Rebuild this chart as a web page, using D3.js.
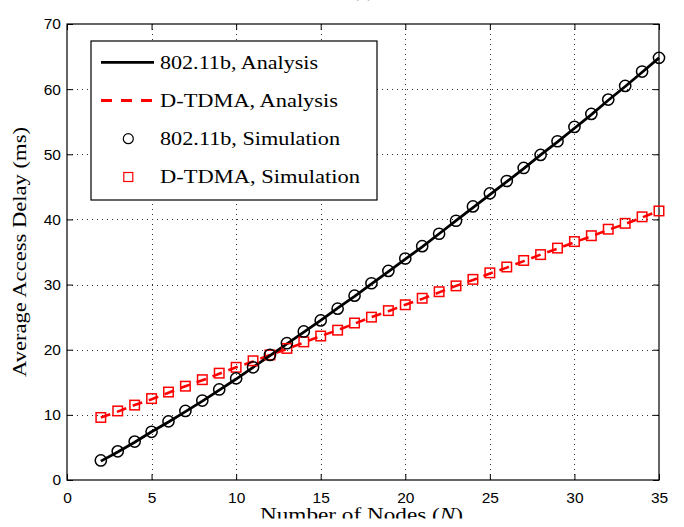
<!DOCTYPE html>
<html>
<head>
<meta charset="utf-8">
<script src="https://cdn.jsdelivr.net/npm/d3@7"></script>
<style>
  html, body { margin: 0; padding: 0; background: #fff; }
  svg { display: block; }
</style>
</head>
<body>
<svg id="chart" width="684" height="527"></svg>
<script>
// Number of nodes N
const nodes = d3.range(2, 36);

// Average access delay (ms), analytical model
const analysis80211b = [2.9, 4.3, 5.8, 7.4, 8.9, 10.5, 12.1, 13.8, 15.5, 17.3, 19.1, 20.9, 22.7, 24.5, 26.4, 28.2, 30.1, 32.0, 33.9, 35.8, 37.8, 39.8, 41.8, 43.8, 45.8, 47.8, 49.9, 51.9, 54.0, 56.1, 58.3, 60.4, 62.6, 64.8];
const analysisDTDMA = [9.6, 10.5, 11.5, 12.4, 13.4, 14.4, 15.3, 16.3, 17.3, 18.2, 19.2, 20.1, 21.1, 22.1, 23.0, 24.0, 25.0, 25.9, 26.9, 27.8, 28.8, 29.8, 30.7, 31.7, 32.6, 33.6, 34.6, 35.5, 36.5, 37.4, 38.4, 39.3, 40.3, 41.3];

// Average access delay (ms), simulation
const simulation80211b = [3.0, 4.4, 5.9, 7.4, 9.0, 10.6, 12.2, 13.9, 15.6, 17.3, 19.2, 21.0, 22.8, 24.5, 26.3, 28.3, 30.2, 32.1, 34.0, 35.9, 37.8, 39.8, 42.0, 44.0, 45.9, 47.9, 49.9, 52.0, 54.2, 56.2, 58.4, 60.5, 62.7, 64.8];
const simulationDTDMA = [9.6, 10.6, 11.5, 12.5, 13.5, 14.4, 15.4, 16.4, 17.3, 18.3, 19.2, 20.2, 21.2, 22.1, 23.0, 24.1, 25.0, 26.0, 26.9, 27.9, 28.9, 29.8, 30.8, 31.8, 32.7, 33.7, 34.6, 35.6, 36.6, 37.5, 38.5, 39.4, 40.4, 41.3];

// Axis ticks
const xTicks = [0, 5, 10, 15, 20, 25, 30, 35];
const yTicks = [0, 10, 20, 30, 40, 50, 60, 70];

// Legend entries
const legendLabels = ["802.11b, Analysis", "D-TDMA, Analysis", "802.11b, Simulation", "D-TDMA, Simulation"];

const svg = d3.select("#chart");
const W = 684, H = 527;
const margin = { left: 67, top: 24, right: 25, bottom: 47 };
const iw = W - margin.left - margin.right;
const ih = H - margin.top - margin.bottom;

const x = d3.scaleLinear().domain([0, 35]).range([margin.left, margin.left + iw]);
const y = d3.scaleLinear().domain([0, 70]).range([margin.top + ih, margin.top]);

const serif = "'Liberation Serif', 'Times New Roman', serif";
const sans = "'Liberation Sans', Arial, Helvetica, sans-serif";

// Panel caption, sitting mostly above the top edge
svg.append("text")
  .attr("x", 363).attr("y", -3)
  .attr("text-anchor", "middle")
  .attr("font-family", serif).attr("font-size", 19)
  .attr("fill", "#888")
  .text("(a)");

// Dotted grid
const grid = svg.append("g").attr("stroke", "#333").attr("stroke-width", 1)
  .attr("stroke-dasharray", "1,4").attr("shape-rendering", "crispEdges");
grid.selectAll("line.vx").data(xTicks.slice(1, -1)).join("line")
  .attr("x1", d => Math.round(x(d)) + 0.5).attr("x2", d => Math.round(x(d)) + 0.5)
  .attr("y1", y(70)).attr("y2", y(0));
grid.selectAll("line.hy").data(yTicks.slice(1, -1)).join("line")
  .attr("y1", d => Math.round(y(d)) + 0.5).attr("y2", d => Math.round(y(d)) + 0.5)
  .attr("x1", x(0)).attr("x2", x(35));

// Axes with inward ticks on all four sides
const axisStyle = g => {
  g.select(".domain").remove();
  g.selectAll("text").attr("font-family", sans).attr("font-size", 15.5).attr("fill", "#000");
  g.selectAll("line").attr("stroke", "#000");
};
svg.append("g").attr("transform", `translate(0,${y(0)})`)
  .call(d3.axisBottom(x).tickValues(xTicks).tickSize(-6).tickPadding(12).tickFormat(d3.format("d")))
  .call(axisStyle);
svg.append("g").attr("transform", `translate(${x(0)},0)`)
  .call(d3.axisLeft(y).tickValues(yTicks).tickSize(-6).tickPadding(6).tickFormat(d3.format("d")))
  .call(axisStyle);
svg.append("g").attr("transform", `translate(0,${y(70)})`)
  .call(d3.axisTop(x).tickValues(xTicks).tickSize(-6).tickFormat(""))
  .call(axisStyle);
svg.append("g").attr("transform", `translate(${x(35)},0)`)
  .call(d3.axisRight(y).tickValues(yTicks).tickSize(-6).tickFormat(""))
  .call(axisStyle);

// Plot frame
svg.append("rect")
  .attr("x", x(0)).attr("y", y(70))
  .attr("width", x(35) - x(0)).attr("height", y(0) - y(70))
  .attr("fill", "none").attr("stroke", "#000").attr("stroke-width", 1.2);

// Analysis curves
const line = d3.line().x((d, i) => x(nodes[i])).y(d => y(d));
svg.append("path").datum(analysisDTDMA)
  .attr("d", line).attr("fill", "none")
  .attr("stroke", "#ff0000").attr("stroke-width", 2.6).attr("stroke-dasharray", "10,7");
svg.append("path").datum(analysis80211b)
  .attr("d", line).attr("fill", "none")
  .attr("stroke", "#000").attr("stroke-width", 2.8);

// Simulation markers
const sq = 9.5;
svg.append("g").selectAll("rect").data(simulationDTDMA).join("rect")
  .attr("x", (d, i) => x(nodes[i]) - sq / 2).attr("y", d => y(d) - sq / 2)
  .attr("width", sq).attr("height", sq)
  .attr("fill", "none").attr("stroke", "#ff0000").attr("stroke-width", 1.5);
svg.append("g").selectAll("circle").data(simulation80211b).join("circle")
  .attr("cx", (d, i) => x(nodes[i])).attr("cy", d => y(d)).attr("r", 5.6)
  .attr("fill", "none").attr("stroke", "#000").attr("stroke-width", 1.5);

// Legend
const lg = svg.append("g");
lg.append("rect").attr("x", 91).attr("y", 41).attr("width", 286).attr("height", 159)
  .attr("fill", "#fff").attr("stroke", "#000").attr("stroke-width", 1.2);
const rowY = [62.3, 100.5, 138.7, 177];
const textWidths = [158, 178, 180, 200];
lg.append("line").attr("x1", 101).attr("x2", 154).attr("y1", rowY[0]).attr("y2", rowY[0])
  .attr("stroke", "#000").attr("stroke-width", 2.8);
lg.append("line").attr("x1", 101).attr("x2", 154).attr("y1", rowY[1]).attr("y2", rowY[1])
  .attr("stroke", "#ff0000").attr("stroke-width", 2.8).attr("stroke-dasharray", "11,9");
lg.append("circle").attr("cx", 128.3).attr("cy", rowY[2]).attr("r", 5)
  .attr("fill", "none").attr("stroke", "#000").attr("stroke-width", 1.2);
lg.append("rect").attr("x", 128.3 - 4.5).attr("y", rowY[3] - 4.5).attr("width", 9).attr("height", 9)
  .attr("fill", "none").attr("stroke", "#ff0000").attr("stroke-width", 1.2);
lg.selectAll("text").data(legendLabels).join("text")
  .attr("x", 160).attr("y", (d, i) => rowY[i] + 6.2)
  .attr("font-family", serif).attr("font-size", 19).attr("fill", "#000")
  .attr("textLength", (d, i) => textWidths[i]).attr("lengthAdjust", "spacingAndGlyphs")
  .text(d => d);

// Axis titles
svg.append("text")
  .attr("transform", `translate(26,252) rotate(-90)`)
  .attr("text-anchor", "middle")
  .attr("font-family", serif).attr("font-size", 19).attr("fill", "#000")
  .attr("textLength", 250).attr("lengthAdjust", "spacingAndGlyphs")
  .text("Average Access Delay (ms)");

svg.append("clipPath").attr("id", "bottomClip")
  .append("rect").attr("x", 0).attr("y", 0).attr("width", W).attr("height", 518.5);
const xl = svg.append("text")
  .attr("clip-path", "url(#bottomClip)")
  .attr("x", 260).attr("y", 521)
  .attr("font-family", serif).attr("font-size", 18).attr("fill", "#000")
  .attr("textLength", 203).attr("lengthAdjust", "spacingAndGlyphs");
xl.append("tspan").text("Number of Nodes (");
xl.append("tspan").attr("font-style", "italic").text("N");
xl.append("tspan").text(")");
</script>
</body>
</html>
